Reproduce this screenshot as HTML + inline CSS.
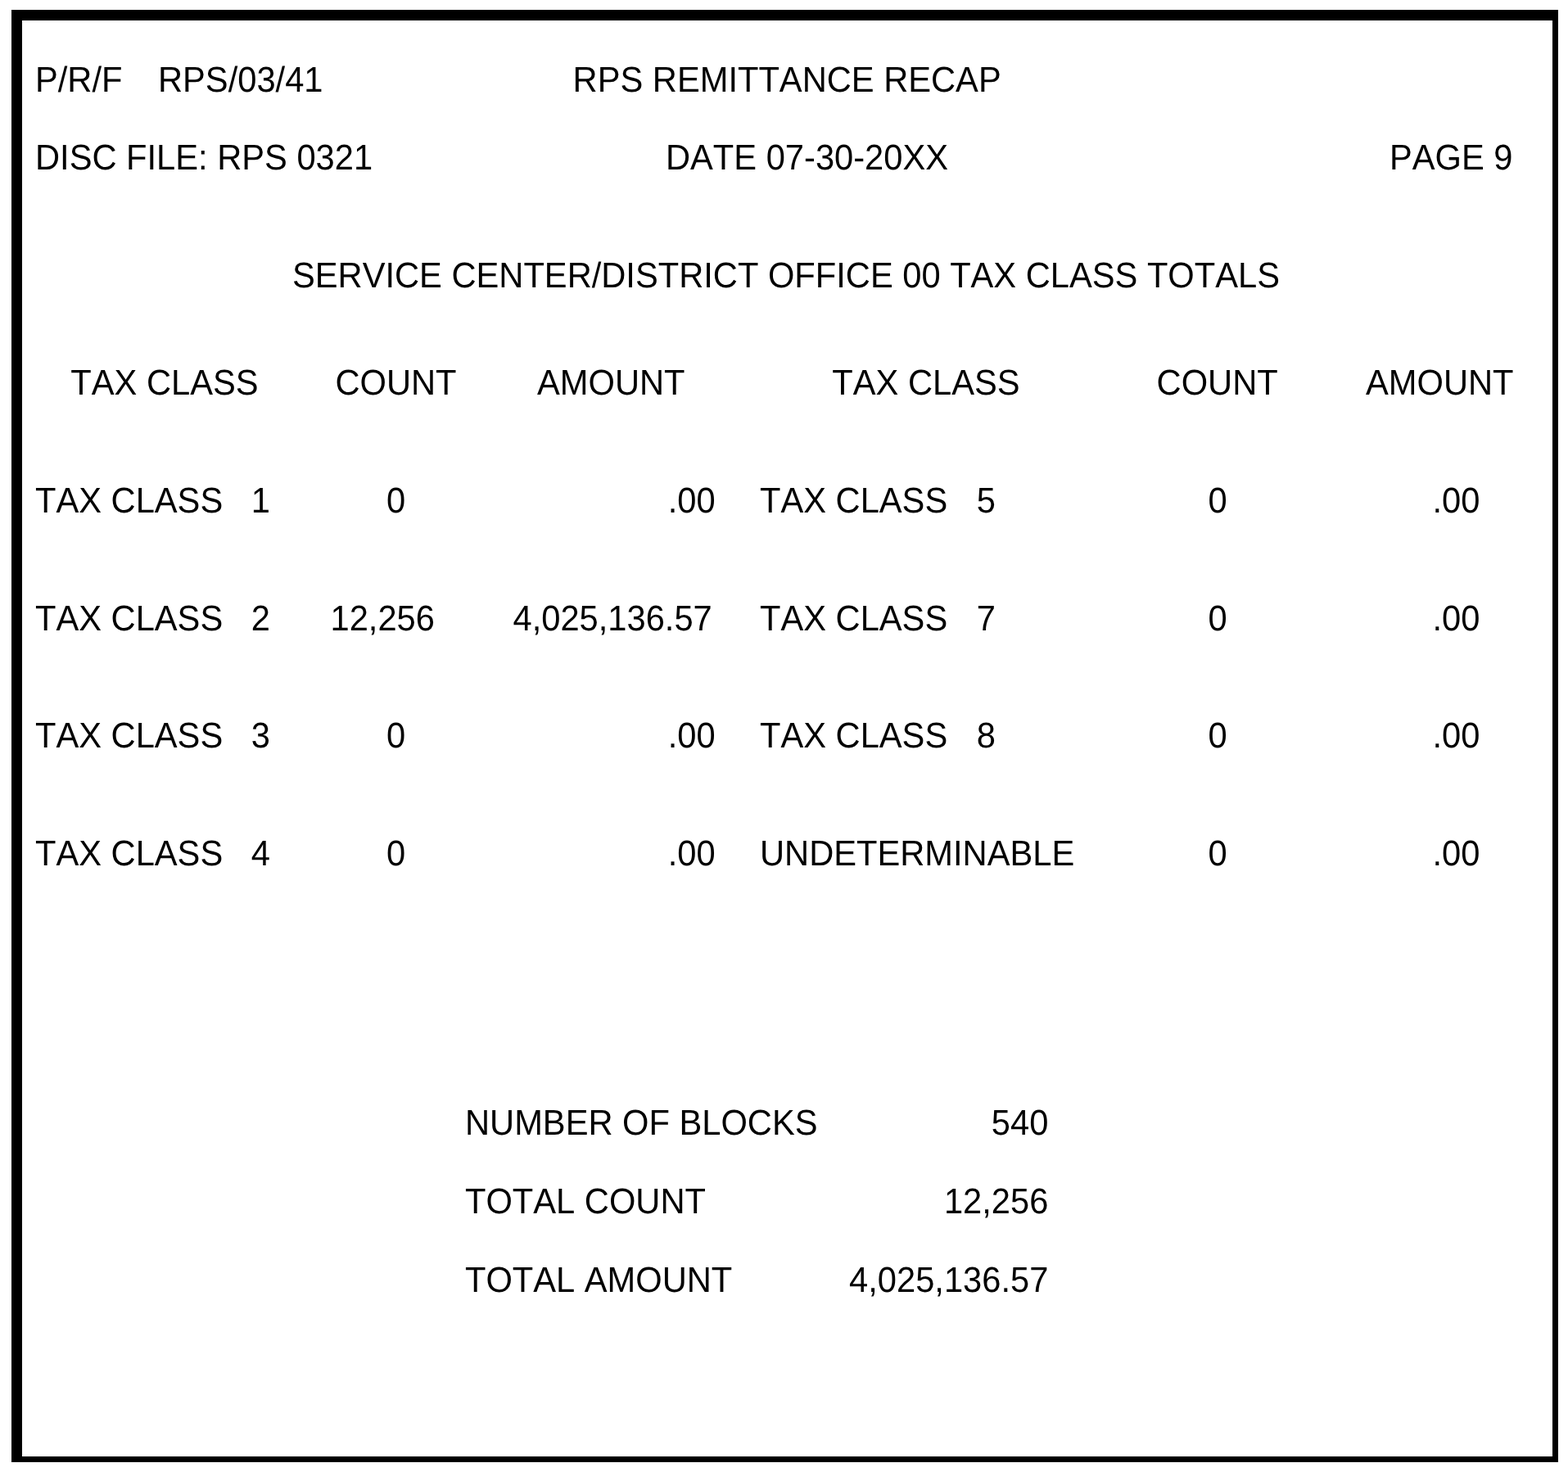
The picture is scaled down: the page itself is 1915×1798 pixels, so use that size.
<!DOCTYPE html>
<html lang="en">
<head>
<meta charset="utf-8">
<title>RPS Remittance Recap</title>
<style>
html,body{margin:0;padding:0;background:#fff;}
body{width:1915px;height:1798px;position:relative;overflow:hidden;font-family:"Liberation Sans",Arial,Helvetica,sans-serif;color:#000;}
#frame{position:absolute;left:14px;top:12px;width:1869px;height:1754px;border-style:solid;border-color:#000;border-width:13px 7px 7px 13px;box-sizing:content-box;}
.t{position:absolute;white-space:pre;font-size:41.67px;line-height:48px;height:48px;margin:0;padding:0;font-kerning:none;text-rendering:geometricPrecision;transform:scaleY(1.045);transform-origin:0 38.44px;}
</style>
</head>
<body>
<div id="frame"></div>
<div class="t" id="a1" style="left:43.00px;top:73.56px">P/R/F</div>
<div class="t" id="a2" style="left:193.00px;top:73.56px">RPS/03/41</div>
<div class="t" id="a3" style="left:699.60px;top:73.56px">RPS REMITTANCE RECAP</div>
<div class="t" id="b1" style="left:43.00px;top:168.56px">DISC FILE: RPS 0321</div>
<div class="t" id="b2" style="left:813.00px;top:168.56px">DATE 07-30-20XX</div>
<div class="t" id="b3" style="left:1697.00px;top:168.56px">PAGE 9</div>
<div class="t" id="c1" style="left:357.00px;top:312.56px">SERVICE CENTER/DISTRICT OFFICE 00 TAX CLASS TOTALS</div>
<div class="t" id="d1" style="left:86.30px;top:443.56px">TAX CLASS</div>
<div class="t" id="d2" style="left:409.40px;top:443.56px">COUNT</div>
<div class="t" id="d3" style="left:656.00px;top:443.56px">AMOUNT</div>
<div class="t" id="d4" style="left:1016.30px;top:443.56px">TAX CLASS</div>
<div class="t" id="d5" style="left:1412.60px;top:443.56px">COUNT</div>
<div class="t" id="d6" style="left:1668.00px;top:443.56px">AMOUNT</div>
<div class="t" id="e0a" style="left:43.00px;top:587.56px">TAX CLASS</div>
<div class="t" id="e0b" style="left:306.80px;top:587.56px">1</div>
<div class="t" id="e0c" style="left:472.10px;top:587.56px">0</div>
<div class="t" id="e0d" style="left:815.70px;top:587.56px">.00</div>
<div class="t" id="e0e" style="left:928.00px;top:587.56px">TAX CLASS</div>
<div class="t" id="e0f" style="left:1192.80px;top:587.56px">5</div>
<div class="t" id="e0g" style="left:1475.60px;top:587.56px">0</div>
<div class="t" id="e0h" style="left:1749.50px;top:587.56px">.00</div>
<div class="t" id="e1a" style="left:43.00px;top:731.56px">TAX CLASS</div>
<div class="t" id="e1b" style="left:306.80px;top:731.56px">2</div>
<div class="t" id="e1c" style="left:403.50px;top:731.56px">12,256</div>
<div class="t" id="e1d" style="left:626.50px;top:731.56px">4,025,136.57</div>
<div class="t" id="e1e" style="left:928.00px;top:731.56px">TAX CLASS</div>
<div class="t" id="e1f" style="left:1192.80px;top:731.56px">7</div>
<div class="t" id="e1g" style="left:1475.60px;top:731.56px">0</div>
<div class="t" id="e1h" style="left:1749.50px;top:731.56px">.00</div>
<div class="t" id="e2a" style="left:43.00px;top:874.56px">TAX CLASS</div>
<div class="t" id="e2b" style="left:306.80px;top:874.56px">3</div>
<div class="t" id="e2c" style="left:472.10px;top:874.56px">0</div>
<div class="t" id="e2d" style="left:815.70px;top:874.56px">.00</div>
<div class="t" id="e2e" style="left:928.00px;top:874.56px">TAX CLASS</div>
<div class="t" id="e2f" style="left:1192.80px;top:874.56px">8</div>
<div class="t" id="e2g" style="left:1475.60px;top:874.56px">0</div>
<div class="t" id="e2h" style="left:1749.50px;top:874.56px">.00</div>
<div class="t" id="e3a" style="left:43.00px;top:1018.56px">TAX CLASS</div>
<div class="t" id="e3b" style="left:306.80px;top:1018.56px">4</div>
<div class="t" id="e3c" style="left:472.10px;top:1018.56px">0</div>
<div class="t" id="e3d" style="left:815.70px;top:1018.56px">.00</div>
<div class="t" id="e3e" style="left:928.00px;top:1018.56px">UNDETERMINABLE</div>
<div class="t" id="e3g" style="left:1475.60px;top:1018.56px">0</div>
<div class="t" id="e3h" style="left:1749.50px;top:1018.56px">.00</div>
<div class="t" id="f1" style="left:568.00px;top:1347.56px">NUMBER OF BLOCKS</div>
<div class="t" id="f2" style="right:634.70px;top:1347.56px">540</div>
<div class="t" id="f3" style="left:568.00px;top:1443.56px">TOTAL COUNT</div>
<div class="t" id="f4" style="right:634.70px;top:1443.56px">12,256</div>
<div class="t" id="f5" style="left:568.00px;top:1539.56px">TOTAL AMOUNT</div>
<div class="t" id="f6" style="right:634.70px;top:1539.56px">4,025,136.57</div>
</body>
</html>
